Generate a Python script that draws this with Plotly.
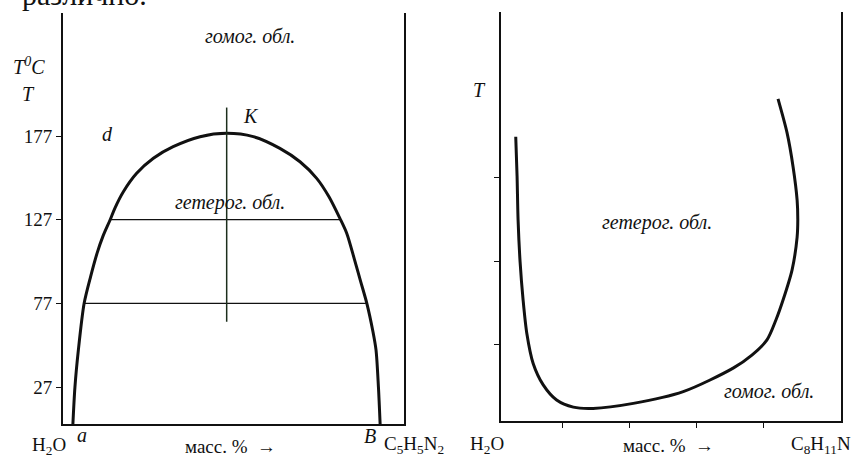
import plotly.graph_objects as go

W, H = 853, 457

# ---------- left diagram: H2O - C5H5N2 (upper critical point) ----------
left_x = [2.9, 3.5, 4.5, 6.2, 8.1, 10.0, 11.7, 13.8, 15.2, 17.7, 21.6, 26.5, 32.3, 40.2, 48.0,
          55.8, 63.6, 69.5, 74.4, 78.0, 81.2, 83.2, 85.5, 87.3, 89.1, 90.9, 91.8, 92.5, 93.0]
left_T = [4.9, 27, 49, 77, 93, 107, 117, 126.8, 133.8, 143.7, 154.7, 163.7, 170.6, 176.6, 178.6,
          176.6, 169.6, 161.6, 151.7, 140.7, 127.8, 118.9, 103, 90, 77, 60, 49, 27, 4.9]
left_ticks = [27, 77, 127, 177]
tie_T = [127, 77]
tie_x0 = [13.8, 6.2]
tie_x1 = [81.2, 89.1]
crit_x = 48
crit_T = [66, 194]

# ---------- right diagram: H2O - C8H11N (lower critical point) ----------
right_x = [5.9, 6.3, 6.6, 7.2, 8.1, 9.2, 11.1, 14.1, 18.1, 23.1, 29.0, 41.0, 55.9, 70.8, 76.4,
           80.9, 83.6, 85.7, 88.4, 89.9, 90.1, 89.9, 88.7, 86.9, 84.2]
right_T = [69.6, 60.2, 49.8, 39.8, 30.7, 22.8, 15.6, 10.5, 6.9, 5.2, 4.9, 6.1, 8.9, 14.5, 17.6,
           21.2, 26.0, 30.7, 37.9, 45.7, 49.8, 54.5, 62.4, 70.5, 78.6]
right_xticks = [20, 40, 60, 80]
right_yticks = [20, 40, 60]

SERIF = "Liberation Serif, Times New Roman, serif"
INK = "#111111"

fig = go.Figure()

fig.add_trace(go.Scatter(x=left_x, y=left_T, mode="lines",
                         line=dict(color=INK, width=3, shape="spline", smoothing=0.8),
                         xaxis="x", yaxis="y", hoverinfo="skip"))
for T, a, b in zip(tie_T, tie_x0, tie_x1):
    fig.add_trace(go.Scatter(x=[a, b], y=[T, T], mode="lines", line=dict(color=INK, width=1.3),
                             xaxis="x", yaxis="y", hoverinfo="skip"))
fig.add_trace(go.Scatter(x=[crit_x, crit_x], y=crit_T, mode="lines", line=dict(color="#1c2e1c", width=1.5),
                         xaxis="x", yaxis="y", hoverinfo="skip"))

fig.add_trace(go.Scatter(x=right_x, y=right_T, mode="lines",
                         line=dict(color=INK, width=3, shape="spline", smoothing=0.8),
                         xaxis="x2", yaxis="y2", hoverinfo="skip"))


def px(x):
    return x / W


def py(y):
    return 1 - y / H


axis_common = dict(showgrid=False, zeroline=False, showline=True, linecolor=INK, linewidth=2,
                   ticks="outside", tickcolor=INK, ticklen=5, tickwidth=1.3)

fig.update_layout(
    width=W, height=H,
    margin=dict(l=0, r=0, t=0, b=0),
    paper_bgcolor="white", plot_bgcolor="white",
    showlegend=False,
    font=dict(family=SERIF, color=INK),
    xaxis=dict(domain=[px(63), px(404)], range=[0, 100], anchor="y", showticklabels=False,
               **{**axis_common, "ticks": ""}),
    yaxis=dict(domain=[py(424), py(13)], range=[4.9, 250.5], anchor="x", mirror=True,
               tickvals=left_ticks, ticktext=[str(t) for t in left_ticks],
               tickfont=dict(family=SERIF, size=19, color=INK), **axis_common),
    xaxis2=dict(domain=[px(501), px(841)], range=[1.5, 103], anchor="y2",
                tickvals=right_xticks, showticklabels=False, **axis_common),
    yaxis2=dict(domain=[py(421), py(12)], range=[1.9, 99.3], anchor="x2", mirror=True,
                tickvals=right_yticks, showticklabels=False, **axis_common),
)

anns = [
    # page text cut at the top
    dict(x=20, y=-5, text="различно.", size=30, xanchor="left"),
    # left diagram
    dict(x=29, y=66, text="<i>T<sup>0</sup>C</i>", size=20),
    dict(x=28, y=94, text="<i>T</i>", size=20),
    dict(x=107, y=134, text="<i>d</i>", size=20),
    dict(x=251, y=116, text="<i>K</i>", size=20),
    dict(x=250, y=36, text="<i>гомог. обл.</i>", size=20),
    dict(x=230, y=202, text="<i>гетерог. обл.</i>", size=20),
    dict(x=49, y=446, text="H<sub>2</sub>O", size=19),
    dict(x=82, y=435, text="<i>a</i>", size=20),
    dict(x=230, y=446, text="масс. %  →", size=19),
    dict(x=370, y=436, text="<i>B</i>", size=20),
    dict(x=382, y=445, text="C<sub>5</sub>H<sub>5</sub>N<sub>2</sub>", size=19, xanchor="left"),
    # right diagram
    dict(x=479, y=90, text="<i>T</i>", size=20),
    dict(x=657, y=222, text="<i>гетерог. обл.</i>", size=20),
    dict(x=769, y=391, text="<i>гомог. обл.</i>", size=20),
    dict(x=487, y=445, text="H<sub>2</sub>O", size=19),
    dict(x=668, y=445, text="масс. %  →", size=19),
    dict(x=853, y=445, text="C<sub>8</sub>H<sub>11</sub>N", size=19, xanchor="right"),
]
for a in anns:
    fig.add_annotation(x=px(a["x"]), y=py(a["y"]), xref="paper", yref="paper", text=a["text"],
                       showarrow=False, xanchor=a.get("xanchor", "center"), yanchor="middle",
                       font=dict(family=SERIF, size=a["size"], color=INK))

fig.write_html("out.html", config={"displayModeBar": False},
               post_script="document.body.style.margin='0';document.body.style.overflow='hidden';")
